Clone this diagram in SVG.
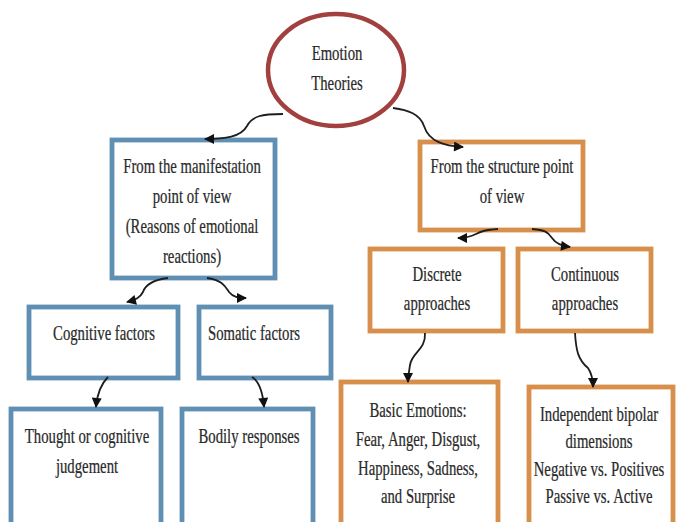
<svg xmlns="http://www.w3.org/2000/svg" width="678" height="522" viewBox="0 0 678 522">
<style>
.t{font-family:"Liberation Serif","Times New Roman",serif;font-size:22px;fill:#2a2a2a;stroke:#2a2a2a;stroke-width:0.25;text-anchor:middle}
.b{fill:#fff;stroke:#5f90b3;stroke-width:4.8}
.o{fill:#fff;stroke:#d88f4c;stroke-width:4.8}
.c{fill:none;stroke:#1e1e1e;stroke-width:1.8}
</style>
<defs>
<marker id="ah" viewBox="0 0 10 10" refX="9" refY="5" markerWidth="11" markerHeight="10" markerUnits="userSpaceOnUse" orient="auto">
<path d="M0,0 L10,5 L0,10 Z" fill="#111"/>
</marker>
</defs>
<rect width="678" height="522" fill="#fff"/>
<g id="root">
<ellipse cx="336" cy="70" rx="68" ry="56" fill="#fff" stroke="#a2403f" stroke-width="4.5"/>
<text class="t" transform="translate(337,0) scale(0.67,1)"><tspan x="0" y="60">Emotion</tspan><tspan x="0" y="90">Theories</tspan></text>
</g>
<g id="manifestation">
<rect class="b" x="112" y="140" width="163" height="138"/>
<text class="t" transform="translate(192,0) scale(0.67,1)"><tspan x="0" y="173">From the manifestation</tspan><tspan x="0" y="203">point of view</tspan><tspan x="0" y="233">(Reasons of emotional</tspan><tspan x="0" y="263">reactions)</tspan></text>
</g>
<g id="structure">
<rect class="o" x="420" y="142" width="163" height="88"/>
<text class="t" transform="translate(502,0) scale(0.67,1)"><tspan x="0" y="173">From the structure point</tspan><tspan x="0" y="203">of view</tspan></text>
</g>
<g id="discrete">
<rect class="o" x="370" y="249" width="133" height="82"/>
<text class="t" transform="translate(437,0) scale(0.67,1)"><tspan x="0" y="281">Discrete</tspan><tspan x="0" y="310">approaches</tspan></text>
</g>
<g id="continuous">
<rect class="o" x="518" y="249" width="133" height="82"/>
<text class="t" transform="translate(585,0) scale(0.67,1)"><tspan x="0" y="281">Continuous</tspan><tspan x="0" y="310">approaches</tspan></text>
</g>
<g id="cognitive">
<rect class="b" x="29" y="307" width="149" height="71"/>
<text class="t" transform="translate(104,0) scale(0.67,1)"><tspan x="0" y="340">Cognitive factors</tspan></text>
</g>
<g id="somatic">
<rect class="b" x="199" y="307" width="132" height="71"/>
<text class="t" transform="translate(254,0) scale(0.67,1)"><tspan x="0" y="340">Somatic factors</tspan></text>
</g>
<g id="thought">
<rect class="b" x="11" y="409" width="150" height="130"/>
<text class="t" transform="translate(87,0) scale(0.67,1)"><tspan x="0" y="443">Thought or cognitive</tspan><tspan x="0" y="473">judgement</tspan></text>
</g>
<g id="bodily">
<rect class="b" x="182" y="409" width="131" height="130"/>
<text class="t" transform="translate(249,0) scale(0.67,1)"><tspan x="0" y="443">Bodily responses</tspan></text>
</g>
<g id="basic">
<rect class="o" x="341" y="382" width="157" height="160"/>
<text class="t" transform="translate(418,0) scale(0.67,1)"><tspan x="0" y="417">Basic Emotions:</tspan><tspan x="0" y="446">Fear, Anger, Disgust,</tspan><tspan x="0" y="475">Happiness, Sadness,</tspan><tspan x="0" y="503">and Surprise</tspan></text>
</g>
<g id="independent">
<rect class="o" x="529" y="387" width="144" height="160"/>
<text class="t" transform="translate(599,0) scale(0.67,1)"><tspan x="0" y="421">Independent bipolar</tspan><tspan x="0" y="448">dimensions</tspan><tspan x="0" y="476">Negative vs. Positives</tspan><tspan x="0" y="503">Passive vs. Active</tspan></text>
</g>
<g id="connectors">
<path class="c" marker-end="url(#ah)" d="M283,114 C262,114 252,116 247,126 C241,137 225,139 205,139"/>
<path class="c" marker-end="url(#ah)" d="M393,108 C408,110 420,114 424,126 C429,142 445,146 463,147"/>
<path class="c" marker-end="url(#ah)" d="M168,278 C152,280 145,286 143,292 C140,298 135,300 127,302"/>
<path class="c" marker-end="url(#ah)" d="M207,278 C222,280 225,286 229,292 C233,297 238,298 246,298"/>
<path class="c" marker-end="url(#ah)" d="M498,229 C485,230 482,231 476,234 C470,237 465,238 458,238"/>
<path class="c" marker-end="url(#ah)" d="M532,229 C545,230 548,232 552,238 C556,244 562,246 570,247"/>
<path class="c" marker-end="url(#ah)" d="M108,377 C100,385 97,395 96,407"/>
<path class="c" marker-end="url(#ah)" d="M252,377 C260,382 263,395 264,407"/>
<path class="c" marker-end="url(#ah)" d="M425,333 C426,350 412,352 410,365 C409,372 408,377 408,382"/>
<path class="c" marker-end="url(#ah)" d="M575,333 C576,350 578,360 588,368 C592,374 593,380 593,387"/>
</g>
</svg>
